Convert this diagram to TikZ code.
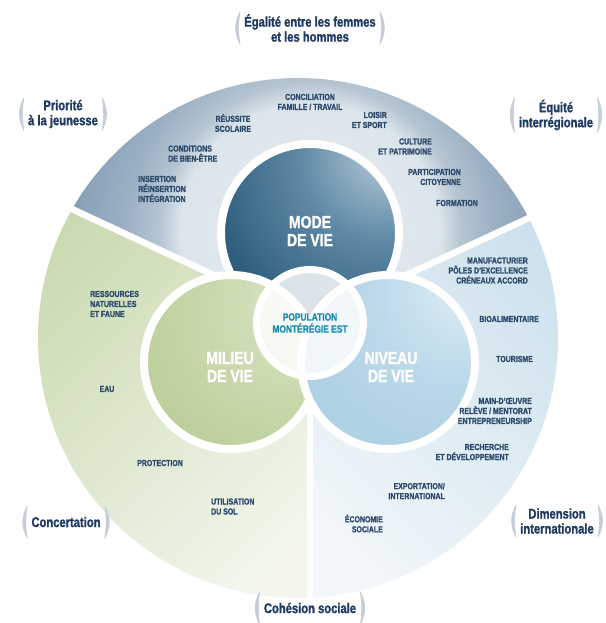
\documentclass[tikz,border=0pt]{standalone}
\usepackage{fontspec}
\newfontfamily\cond{Liberation Sans}[FakeStretch=0.8, BoldFeatures={FakeBold=1.3}]
\usetikzlibrary{calc}
\definecolor{navy}{HTML}{2C4A6B}
\definecolor{bnavy}{HTML}{1F3A63}
\definecolor{brkc}{HTML}{C5CED8}
\definecolor{popc}{HTML}{1D8FB3}
\definecolor{t0}{HTML}{E6EDF1}
\definecolor{t1}{HTML}{DCE5EB}
\definecolor{t2}{HTML}{B4C5D2}
\definecolor{t3}{HTML}{9AAFC2}
\definecolor{t4}{HTML}{879FB5}
\definecolor{t5}{HTML}{7C96AD}
\definecolor{grdark}{HTML}{CADAB0}
\definecolor{grlight}{HTML}{F2F6EC}
\definecolor{bldark}{HTML}{CCE1ED}
\definecolor{bllight}{HTML}{F2F7FA}
\definecolor{m0}{HTML}{EAF0F4}
\definecolor{m1}{HTML}{AFC5D3}
\definecolor{m2}{HTML}{5F8AA6}
\definecolor{m3}{HTML}{2F5E7E}
\definecolor{m4}{HTML}{1F4D6D}
\definecolor{g0}{HTML}{E4ECD4}
\definecolor{g1}{HTML}{CFDDB5}
\definecolor{g2}{HTML}{B9CD97}
\definecolor{g3}{HTML}{ADC489}
\definecolor{b0}{HTML}{F7FAFC}
\definecolor{b1}{HTML}{D9EAF3}
\definecolor{b2}{HTML}{BAD8E9}
\definecolor{b3}{HTML}{A6CCE1}
\pgfdeclareradialshading{topsh}{\pgfpointorigin}{color(0bp)=(t0); color(12.5bp)=(t1); color(14.5bp)=(t2); color(18bp)=(t3); color(23bp)=(t4); color(32bp)=(t5); color(50bp)=(t5)}
\pgfdeclareradialshading{modesh}{\pgfpoint{25bp}{26bp}}{color(0bp)=(m0); color(5bp)=(m1); color(22bp)=(m2); color(42bp)=(m3); color(70bp)=(m4); color(100bp)=(m4)}
\pgfdeclareradialshading{milsh}{\pgfpoint{22bp}{18bp}}{color(0bp)=(g0); color(15bp)=(g1); color(45bp)=(g2); color(80bp)=(g3); color(100bp)=(g3)}
\pgfdeclareradialshading{nivsh}{\pgfpoint{26bp}{25bp}}{color(0bp)=(b0); color(6bp)=(b1); color(25bp)=(b2); color(55bp)=(b3); color(100bp)=(b3)}
\newcommand\brk[1]{%
 \fill[brkc,draw=brkc,line width=0.6pt,line join=round]
  ($(#1.north west)+(2,0)$) .. controls ($(#1.north west)+(-4,11)$) and ($(#1.south west)+(-4,-11)$) .. ($(#1.south west)+(2,0)$)
  .. controls ($(#1.south west)+(0,-11)$) and ($(#1.north west)+(0,11)$) .. ($(#1.north west)+(2,0)$) -- cycle;
 \fill[brkc,draw=brkc,line width=0.6pt,line join=round]
  ($(#1.north east)+(-2,0)$) .. controls ($(#1.north east)+(4,11)$) and ($(#1.south east)+(4,-11)$) .. ($(#1.south east)+(-2,0)$)
  .. controls ($(#1.south east)+(0,-11)$) and ($(#1.north east)+(0,11)$) .. ($(#1.north east)+(-2,0)$) -- cycle;
}
\begin{document}
\begin{tikzpicture}[x=1pt,y=-1pt,
 lbl/.style={font=\cond\bfseries\fontsize{8.7}{10}\selectfont, text=navy, inner sep=0pt},
 ctxt/.style={font=\cond\bfseries\fontsize{17.5}{18}\selectfont, text=white, align=center, inner sep=0pt},
 ptxt/.style={font=\cond\bfseries\fontsize{10.5}{12}\selectfont, text=popc, align=center, inner sep=0pt},
 blbl/.style={font=\cond\bfseries\fontsize{14}{15}\selectfont, text=bnavy, align=center, inner xsep=6pt, inner ysep=2pt, minimum height=32pt},
 disc/.style={circle, draw=white, line width=8pt, inner sep=0pt, shade}]
\useasboundingbox (0,0) rectangle (605,623);
\fill[white] (0,0) rectangle (605,623);
\coordinate (O) at (298,338);
\coordinate (P) at (310,320);
% sectors
\begin{scope}
 \clip (O) circle (260pt);
 \clip (P) -- ($(P)+(25:420pt)$) -- ($(P)+(90:420pt)$) -- ($(P)+(155:420pt)$) -- cycle;
 \shade[shading=topsh] (310,233) circle (260pt);
\end{scope}
\begin{scope}
 \clip (O) circle (260pt);
 \clip (P) -- ($(P)+(155:420pt)$) -- ($(P)+(210:420pt)$) -- ($(P)+(270:420pt)$) -- cycle;
 \shade[top color=grdark, bottom color=grlight, shading angle=45] (20,160) rectangle (330,610);
\end{scope}
\begin{scope}
 \clip (O) circle (260pt);
 \clip (P) -- ($(P)+(270:420pt)$) -- ($(P)+(330:420pt)$) -- ($(P)+(25:420pt)$) -- cycle;
 \shade[top color=bldark, bottom color=bllight, shading angle=-45] (290,160) rectangle (570,610);
\end{scope}
\begin{scope}
 \clip (O) circle (261pt);
 \foreach \a in {25,155,270} \draw[white,line width=6.5pt] (P) -- ($(P)+(\a:420pt)$);
\end{scope}
% circles
\node[disc, minimum size=178pt, shading=modesh] (mode) at (310,233) {};
\node[disc, minimum size=174pt, shading=milsh] (milieu) at (231,362) {};
\node[disc, minimum size=174pt, shading=nivsh] (niveau) at (388,362) {};
\node[circle, minimum size=107pt, draw=white, line width=7pt, fill=white, fill opacity=0.82, draw opacity=1] (pop) at (310,323) {};
\node[ctxt] (modet) at (310,231) {MODE\\DE VIE};
\node[ctxt] (milieut) at (230,367) {MILIEU\\DE VIE};
\node[ctxt] (niveaut) at (391,367) {NIVEAU\\DE VIE};
\node[ptxt] (popt) at (310,323) {POPULATION\\MONTÉRÉGIE EST};
% top sector labels
\node[lbl, align=center] (conc) at (310,102) {CONCILIATION\\FAMILLE / TRAVAIL};
\node[lbl, align=center] (reus) at (233,123) {RÉUSSITE\\SCOLAIRE};
\node[lbl, align=right, anchor=east] (loisir) at (387,120) {LOISIR\\ET SPORT};
\node[lbl, align=left, anchor=west] (condi) at (168,153.5) {CONDITIONS\\DE BIEN-ÊTRE};
\node[lbl, align=right, anchor=east] (cult) at (432,146.5) {CULTURE\\ET PATRIMOINE};
\node[lbl, align=left, anchor=west] (insr) at (138,189) {INSERTION\\RÉINSERTION\\INTÉGRATION};
\node[lbl, align=right, anchor=east] (part) at (461,177) {PARTICIPATION\\CITOYENNE};
\node[lbl, anchor=east] (form) at (478,203) {FORMATION};
% right sector labels
\node[lbl, align=right, anchor=east] (manu) at (528,270.5) {MANUFACTURIER\\PÔLES D’EXCELLENCE\\CRÉNEAUX ACCORD};
\node[lbl, anchor=east] (bio) at (539,319) {BIOALIMENTAIRE};
\node[lbl, anchor=east] (tour) at (533,359) {TOURISME};
\node[lbl, align=right, anchor=east] (main) at (532,411) {MAIN-D’ŒUVRE\\RELÈVE / MENTORAT\\ENTREPRENEURSHIP};
\node[lbl, align=right, anchor=east] (rech) at (509,452) {RECHERCHE\\ET DÉVELOPPEMENT};
\node[lbl, align=right, anchor=east] (expo) at (445,491) {EXPORTATION/\\INTERNATIONAL};
\node[lbl, align=right, anchor=east] (econ) at (383,523.5) {ÉCONOMIE\\SOCIALE};
% left sector labels
\node[lbl, align=left, anchor=west] (ress) at (90,304) {RESSOURCES\\NATURELLES\\ET FAUNE};
\node[lbl] (eau) at (107,389) {EAU};
\node[lbl] (prot) at (160,463) {PROTECTION};
\node[lbl, align=left, anchor=west] (util) at (211,506.5) {UTILISATION\\DU SOL};
% bracket labels
\node[blbl] (egal) at (310,28) {Égalité entre les femmes\\et les hommes};
\node[blbl] (prio) at (63,114) {Priorité\\à la jeunesse};
\node[blbl] (equi) at (556,115) {Équité\\interrégionale};
\node[blbl] (concert) at (66,522) {Concertation};
\node[blbl] (dim) at (557,521) {Dimension\\internationale};
\node[blbl] (coh) at (310,608) {Cohésion sociale};
\brk{egal}\brk{prio}\brk{equi}\brk{concert}\brk{dim}\brk{coh}
\end{tikzpicture}
\end{document}
